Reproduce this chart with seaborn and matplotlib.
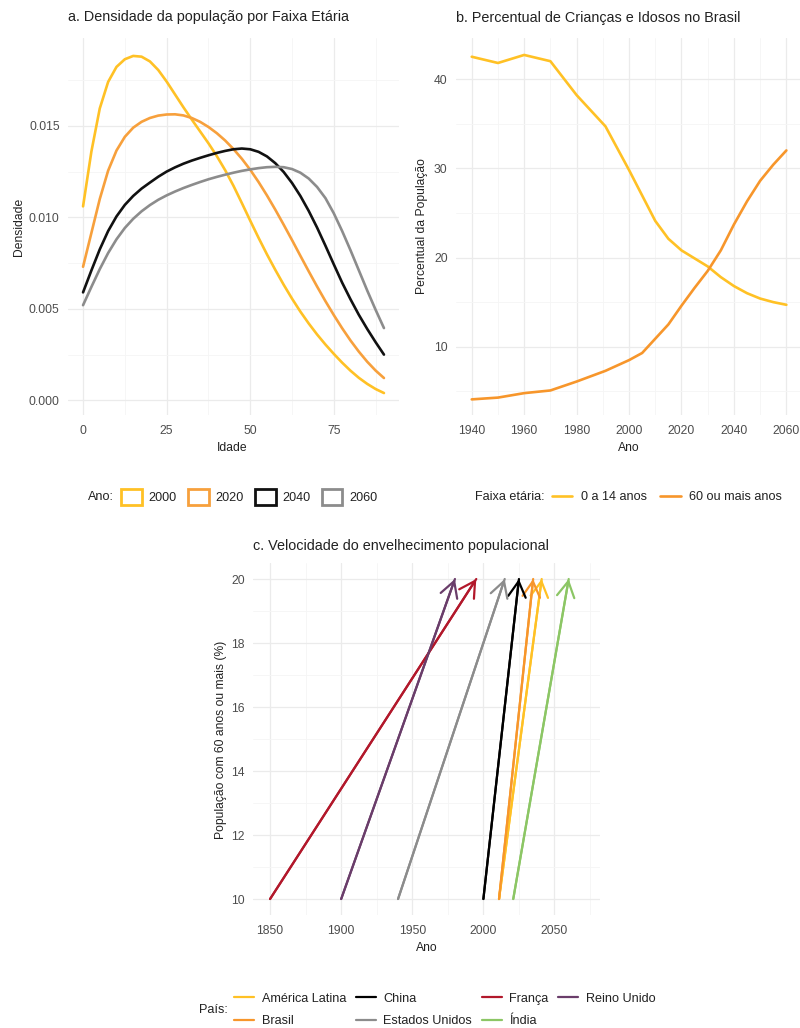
import matplotlib
matplotlib.use("Agg")
import matplotlib.pyplot as plt
import seaborn as sns
import pandas as pd
from matplotlib.lines import Line2D
from matplotlib.patches import Patch
from matplotlib.ticker import MultipleLocator, FormatStrFormatter

# a. densidade da populacao por idade (idade de 2,5 em 2,5 anos)
idades = [0, 2.5, 5, 7.5, 10, 12.5, 15, 17.5, 20, 22.5, 25, 27.5, 30, 32.5,
          35, 37.5, 40, 42.5, 45, 47.5, 50, 52.5, 55, 57.5, 60, 62.5, 65,
          67.5, 70, 72.5, 75, 77.5, 80, 82.5, 85, 87.5, 90]
dens_2000 = [0.01060, 0.01360, 0.01595, 0.01740, 0.01822, 0.01864, 0.01882,
             0.01878, 0.01852, 0.01805, 0.01742, 0.01672, 0.01602, 0.01535,
             0.01470, 0.01405, 0.01335, 0.01258, 0.01172, 0.01078, 0.00982,
             0.00888, 0.00798, 0.00713, 0.00632, 0.00556, 0.00485, 0.00420,
             0.00360, 0.00305, 0.00254, 0.00206, 0.00162, 0.00123, 0.00090,
             0.00062, 0.00040]
dens_2020 = [0.00730, 0.00915, 0.01100, 0.01255, 0.01365, 0.01440, 0.01490,
             0.01522, 0.01543, 0.01556, 0.01562, 0.01563, 0.01557, 0.01543,
             0.01522, 0.01494, 0.01460, 0.01420, 0.01373, 0.01320, 0.01260,
             0.01193, 0.01120, 0.01042, 0.00960, 0.00876, 0.00790, 0.00705,
             0.00622, 0.00542, 0.00466, 0.00394, 0.00327, 0.00266, 0.00211,
             0.00163, 0.00122]
dens_2040 = [0.00590, 0.00710, 0.00825, 0.00925, 0.01005, 0.01068, 0.01117,
             0.01157, 0.01190, 0.01222, 0.01250, 0.01273, 0.01293, 0.01310,
             0.01325, 0.01339, 0.01352, 0.01363, 0.01372, 0.01376, 0.01372,
             0.01358, 0.01333, 0.01296, 0.01248, 0.01188, 0.01117, 0.01035,
             0.00944, 0.00845, 0.00743, 0.00643, 0.00552, 0.00467, 0.00390,
             0.00318, 0.00250]
dens_2060 = [0.00520, 0.00620, 0.00717, 0.00805, 0.00880, 0.00942, 0.00992,
             0.01033, 0.01067, 0.01096, 0.01120, 0.01141, 0.01160, 0.01177,
             0.01193, 0.01208, 0.01221, 0.01233, 0.01244, 0.01254, 0.01262,
             0.01269, 0.01274, 0.01276, 0.01274, 0.01264, 0.01244, 0.01212,
             0.01166, 0.01105, 0.01022, 0.00925, 0.00820, 0.00710, 0.00600,
             0.00495, 0.00395]
anos_densidade = ["2000", "2020", "2040", "2060"]
cores_densidade = ["#FFC125", "#F7A03C", "#111111", "#8C8C8C"]

# b. percentual de criancas e idosos
anos_jovens = [1940, 1950, 1960, 1970, 1980, 1991, 2000, 2010, 2015, 2020,
               2025, 2030, 2035, 2040, 2045, 2050, 2055, 2060]
pct_jovens = [42.5, 41.8, 42.7, 42.0, 38.2, 34.7, 29.8, 24.1, 22.1, 20.8,
              19.9, 19.0, 17.8, 16.8, 16.0, 15.4, 15.0, 14.7]
anos_idosos = [1940, 1950, 1960, 1970, 1980, 1991, 2000, 2005, 2010, 2015,
               2020, 2025, 2030, 2035, 2040, 2045, 2050, 2055, 2060]
pct_idosos = [4.1, 4.3, 4.8, 5.1, 6.1, 7.3, 8.5, 9.3, 10.9, 12.5,
              14.6, 16.6, 18.5, 20.8, 23.7, 26.3, 28.6, 30.4, 32.0]
faixas = ["0 a 14 anos", "60 ou mais anos"]
cores_faixas = ["#FFC125", "#F7962B"]

# c. velocidade do envelhecimento
paises = ["América Latina", "Brasil", "China", "Estados Unidos", "França",
          "Índia", "Reino Unido"]
ano_10pct = [2011, 2011, 2000, 1940, 1850, 2021, 1900]
ano_20pct = [2041, 2035, 2025, 2015, 1995, 2060, 1980]
cores_paises = ["#FFC125", "#F7962B", "#000000", "#8C8C8C", "#B2182B",
                "#8CC665", "#6A3D6A"]

df_a = pd.DataFrame({
    "Idade": idades * 4,
    "Densidade": dens_2000 + dens_2020 + dens_2040 + dens_2060,
    "Ano": sum([[a] * len(idades) for a in anos_densidade], []),
})
df_b = pd.DataFrame({
    "Ano": anos_jovens + anos_idosos,
    "Percentual": pct_jovens + pct_idosos,
    "Faixa": [faixas[0]] * len(anos_jovens) + [faixas[1]] * len(anos_idosos),
})
df_c = pd.DataFrame({
    "Ano": ano_10pct + ano_20pct,
    "Pct": [10] * len(paises) + [20] * len(paises),
    "País": paises + paises,
})

sns.set_style("whitegrid")
plt.rcParams["font.family"] = ["Liberation Sans", "DejaVu Sans"]

TICK = "#4D4D4D"
TXT = "#222222"
fig = plt.figure(figsize=(8, 10.28), dpi=100)


def px_axes(left, top, right, bottom):
    return fig.add_axes([left / 800, 1 - bottom / 1028,
                         (right - left) / 800, (bottom - top) / 1028])


def estilo(ax, xmaj, xmin, ymaj, ymin):
    ax.xaxis.set_major_locator(MultipleLocator(xmaj))
    ax.xaxis.set_minor_locator(MultipleLocator(xmin))
    ax.yaxis.set_major_locator(MultipleLocator(ymaj))
    ax.yaxis.set_minor_locator(MultipleLocator(ymin))
    ax.grid(which="major", color="#EBEBEB", lw=0.9)
    ax.grid(which="minor", color="#F5F5F5", lw=0.6)
    ax.set_axisbelow(True)
    for s in ax.spines.values():
        s.set_visible(False)
    ax.tick_params(which="both", length=0, labelsize=8.7, labelcolor=TICK)
    ax.tick_params(axis="x", pad=7)
    ax.tick_params(axis="y", pad=6)


def rotulos(ax, titulo, ty, xl, xlpos, yl, ylpos):
    ax.set_title(titulo, loc="left", y=ty, pad=0, va="center",
                 fontsize=10.4, color=TXT)
    ax.set_xlabel(xl, fontsize=8.7, color=TXT)
    ax.set_ylabel(yl, fontsize=8.7, color=TXT)
    ax.xaxis.label.set_va("center")
    ax.yaxis.label.set_va("center")
    ax.xaxis.set_label_coords(*xlpos)
    ax.yaxis.set_label_coords(*ylpos)


# painel a
ax_a = px_axes(68, 38, 399, 415)
sns.lineplot(data=df_a, x="Idade", y="Densidade", hue="Ano",
             hue_order=anos_densidade, palette=cores_densidade,
             lw=1.9, legend=False, ax=ax_a)
ax_a.set_xlim(-4.5, 94.5)
ax_a.set_ylim(-0.0008, 0.0198)
estilo(ax_a, 25, 12.5, 0.005, 0.0025)
ax_a.yaxis.set_major_formatter(FormatStrFormatter("%.3f"))
rotulos(ax_a, "a. Densidade da população por Faixa Etária", 1.056,
        "Idade", (0.497, -0.088), "Densidade", (-0.148, 0.5))

# painel b
ax_b = px_axes(456, 38, 800, 415)
sns.lineplot(data=df_b, x="Ano", y="Percentual", hue="Faixa",
             hue_order=faixas, palette=cores_faixas, lw=1.9,
             legend=False, ax=ax_b)
ax_b.set_xlim(1934, 2065.2)
ax_b.set_ylim(2.35, 44.6)
estilo(ax_b, 20, 10, 10, 5)
rotulos(ax_b, "b. Percentual de Crianças e Idosos no Brasil", 1.053,
        "Ano", (0.503, -0.088), "Percentual da População", (-0.099, 0.5))

# painel c
ax_c = px_axes(253, 563, 600, 915)
sns.lineplot(data=df_c, x="Ano", y="Pct", hue="País", hue_order=paises,
             palette=cores_paises, units="País", estimator=None, sort=False,
             lw=1.6, legend=False, ax=ax_c)
for ini, fim, cor in zip(ano_10pct, ano_20pct, cores_paises):
    ax_c.annotate("", xy=(fim, 20), xytext=(ini, 10),
                  arrowprops=dict(arrowstyle="->,head_length=0.75,head_width=0.42",
                                  color=cor, lw=1.6, shrinkA=0, shrinkB=0,
                                  mutation_scale=15))
ax_c.set_xlim(1838, 2082)
ax_c.set_ylim(9.5, 20.5)
estilo(ax_c, 50, 25, 2, 1)
rotulos(ax_c, "c. Velocidade do envelhecimento populacional", 1.048,
        "Ano", (0.501, -0.094), "População com 60 anos ou mais (%)",
        (-0.092, 0.497))

# legendas
fs = 9.1
fig.text(88 / 800, 1 - 497 / 1028, "Ano:", fontsize=fs, color=TXT, va="center")
h_a = [Patch(facecolor="white", edgecolor=c, lw=2.0) for c in cores_densidade]
fig.legend(h_a, anos_densidade, loc="center left",
           bbox_to_anchor=(121 / 800, 1 - 497 / 1028), ncol=4, frameon=False,
           fontsize=fs, handlelength=1.65, handleheight=1.65,
           handletextpad=0.55, columnspacing=0.86, borderpad=0,
           borderaxespad=0, labelcolor=TXT)

fig.text(475 / 800, 1 - 497 / 1028, "Faixa etária:", fontsize=fs, color=TXT,
         va="center")
h_b = [Line2D([], [], color=c, lw=1.9) for c in cores_faixas]
fig.legend(h_b, faixas, loc="center left",
           bbox_to_anchor=(552 / 800, 1 - 497 / 1028), ncol=2, frameon=False,
           fontsize=fs, handlelength=1.6, handletextpad=0.7,
           columnspacing=1.05, borderpad=0, borderaxespad=0, labelcolor=TXT)

fig.text(199 / 800, 1 - 1010 / 1028, "País:", fontsize=fs, color=TXT,
         va="center")
h_c = [Line2D([], [], color=c, lw=1.6) for c in cores_paises]
fig.legend(h_c, paises, loc="center left",
           bbox_to_anchor=(234 / 800, 1 - 1010 / 1028), ncol=4, frameon=False,
           fontsize=fs, handlelength=1.6, handletextpad=0.6,
           columnspacing=0.75, labelspacing=0.85, borderpad=0,
           borderaxespad=0, labelcolor=TXT)

fig.savefig("out.png", dpi=100, facecolor="white")
